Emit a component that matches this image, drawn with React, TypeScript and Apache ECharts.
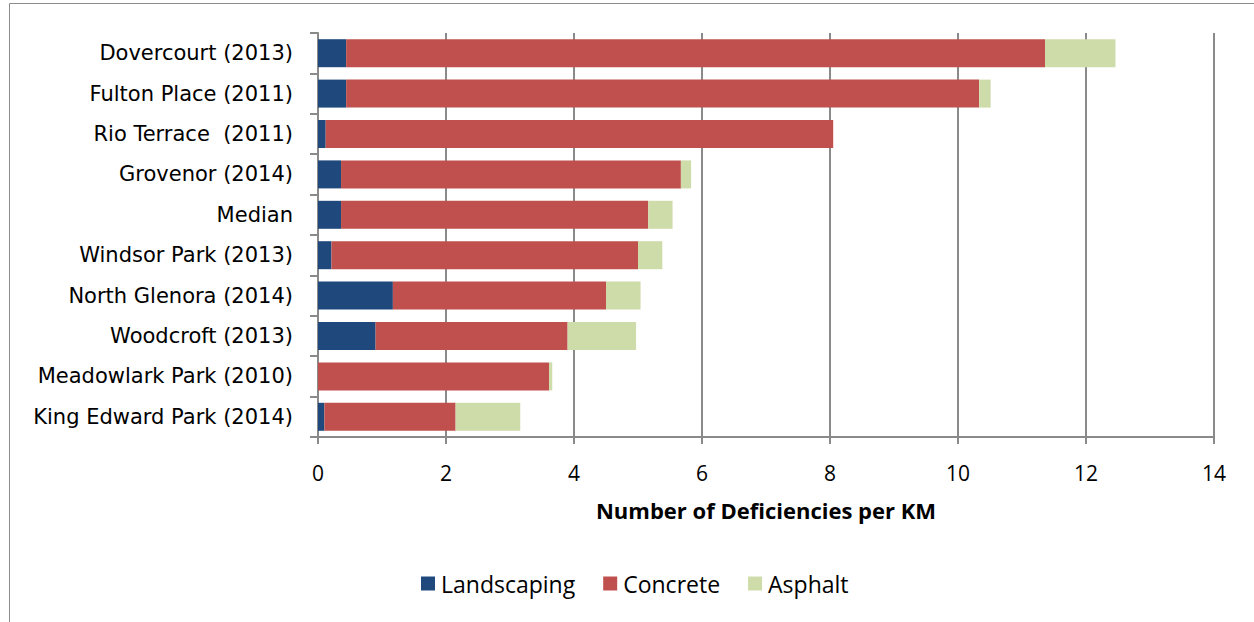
import React, { useEffect, useRef } from "react";
import * as echarts from "echarts";

const categories = [
  "Dovercourt (2013)",
  "Fulton Place (2011)",
  "Rio Terrace  (2011)",
  "Grovenor (2014)",
  "Median",
  "Windsor Park (2013)",
  "North Glenora (2014)",
  "Woodcroft (2013)",
  "Meadowlark Park (2010)",
  "King Edward Park (2014)",
];

const landscaping = [0.44, 0.44, 0.12, 0.36, 0.36, 0.21, 1.17, 0.9, 0, 0.1];
const concrete = [10.92, 9.89, 7.93, 5.31, 4.8, 4.79, 3.33, 3.0, 3.61, 2.05];
const asphalt = [1.1, 0.18, 0, 0.16, 0.38, 0.38, 0.54, 1.07, 0.05, 1.01];

const xTicks = { min: 0, max: 14, interval: 2 };

const FONT = "'Open Sans', 'DejaVu Sans', sans-serif";
const LABEL_FONT = "'DejaVu Sans', 'Open Sans', sans-serif";
const GRID_GRAY = "#8a8a8a";

export default function App() {
  const ref = useRef<HTMLDivElement>(null);

  useEffect(() => {
    if (!ref.current) return;
    const chart = echarts.init(ref.current, undefined, { renderer: "svg" });

    const series = [
      { name: "Landscaping", data: landscaping, color: "#1F497D" },
      { name: "Concrete", data: concrete, color: "#C0504D" },
      { name: "Asphalt", data: asphalt, color: "#CEDCAA" },
    ].map((s) => ({
      name: s.name,
      type: "bar",
      stack: "total",
      data: s.data,
      barWidth: 28,
      itemStyle: { color: s.color },
    }));

    chart.setOption({
      animation: false,
      backgroundColor: "#ffffff",
      textStyle: { fontFamily: FONT },
      graphic: [
        {
          type: "rect",
          shape: { x: 9.5, y: 3.5, width: 1300, height: 700 },
          style: { fill: "none", stroke: "#8c8c8c", lineWidth: 1 },
          silent: true,
        },
      ],
      grid: { left: 318, top: 33, width: 896, height: 404, containLabel: false },
      legend: {
        left: 421,
        top: 572,
        padding: 0,
        itemWidth: 14,
        itemHeight: 14,
        itemGap: 28,
        icon: "rect",
        textStyle: { fontFamily: FONT, fontSize: 23, color: "#000", padding: [0, 0, 0, 1] },
        data: ["Landscaping", "Concrete", "Asphalt"],
      },
      xAxis: {
        type: "value",
        min: xTicks.min,
        max: xTicks.max,
        interval: xTicks.interval,
        name: "Number of Deficiencies per KM",
        nameLocation: "middle",
        nameGap: 62,
        nameTextStyle: { fontFamily: FONT, fontSize: 22, fontWeight: "bold", color: "#000" },
        axisLine: { show: true, lineStyle: { color: GRID_GRAY, width: 2 } },
        axisTick: { show: true, length: 7, lineStyle: { color: GRID_GRAY, width: 2 } },
        axisLabel: { fontFamily: FONT, fontSize: 21, color: "#000", margin: 25 },
        splitLine: { show: true, lineStyle: { color: GRID_GRAY, width: 2 } },
      },
      yAxis: {
        type: "category",
        data: categories,
        inverse: true,
        axisLine: { show: true, lineStyle: { color: GRID_GRAY, width: 2 } },
        axisTick: { show: true, length: 8, lineStyle: { color: GRID_GRAY, width: 2 } },
        axisLabel: { fontFamily: LABEL_FONT, fontSize: 21, color: "#000", margin: 25 },
      },
      series,
    });

    return () => chart.dispose();
  }, []);

  return (
    <div
      ref={ref}
      style={{ position: "fixed", left: 0, top: 0, width: 1254, height: 622, background: "#fff" }}
    />
  );
}
